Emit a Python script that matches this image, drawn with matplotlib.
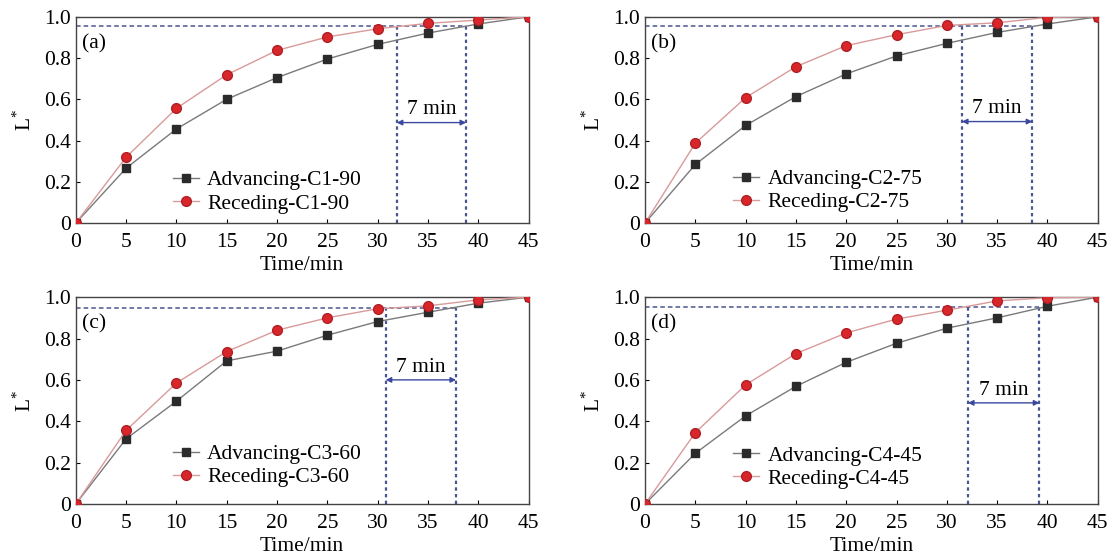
import numpy as np
import matplotlib.pyplot as plt

plt.rcParams['font.family'] = ['Liberation Serif', 'DejaVu Serif']
plt.rcParams['mathtext.fontset'] = 'custom'
plt.rcParams['mathtext.rm'] = 'Liberation Serif'

time = [0, 5, 10, 15, 20, 25, 30, 35, 40, 45]

adv_a = [0, 0.266, 0.456, 0.600, 0.705, 0.795, 0.866, 0.921, 0.965, 1.0]
rec_a = [0, 0.319, 0.556, 0.719, 0.837, 0.902, 0.942, 0.968, 0.984, 1.0]
adv_b = [0, 0.284, 0.473, 0.613, 0.723, 0.810, 0.871, 0.924, 0.965, 1.0]
rec_b = [0, 0.387, 0.608, 0.758, 0.860, 0.913, 0.958, 0.971, 0.997, 1.0]
adv_c = [0, 0.315, 0.497, 0.692, 0.739, 0.816, 0.882, 0.927, 0.971, 1.0]
rec_c = [0, 0.356, 0.585, 0.737, 0.840, 0.900, 0.944, 0.958, 0.987, 1.0]
adv_d = [0, 0.245, 0.426, 0.569, 0.685, 0.777, 0.850, 0.900, 0.956, 1.0]
rec_d = [0, 0.345, 0.576, 0.727, 0.827, 0.894, 0.937, 0.982, 0.997, 1.0]

names = ['C1-90', 'C2-75', 'C3-60', 'C4-45']
letters = ['(a)', '(b)', '(c)', '(d)']
# level of the dashed line, left / right vertical line, arrow height
level = [0.955, 0.956, 0.950, 0.952]
t_left = [31.9, 31.5, 30.8, 32.1]
t_right = [38.8, 38.5, 37.8, 39.2]
arrow_y = [0.487, 0.492, 0.600, 0.489]

advancing = [adv_a, adv_b, adv_c, adv_d]
receding = [rec_a, rec_b, rec_c, rec_d]

fig = plt.figure(figsize=(11.15, 5.59), dpi=100)
pos = [[0.068, 0.601, 0.406, 0.369],
       [0.5785, 0.601, 0.406, 0.369],
       [0.068, 0.0984, 0.406, 0.370],
       [0.5785, 0.0984, 0.406, 0.370]]
# legend anchor (axes fraction): handle start, middle of the two rows
leg_pos = [(0.214, 0.150), (0.194, 0.157), (0.214, 0.185), (0.194, 0.178)]

dash_col = '#4a5690'
for i in range(4):
    ax = fig.add_axes(pos[i])
    ax.plot(time, advancing[i], color='#7a7a7a', lw=1.0, marker='s', ms=5.5,
            mfc='#2b2b2b', mec='#2b2b2b', label='Advancing-' + names[i], zorder=3)
    ax.plot(time, receding[i], color='#d99a9a', lw=1.0, marker='o', ms=7,
            mfc='#d9262b', mec='#b02025', label='Receding-' + names[i], zorder=3)

    ax.plot([0, t_right[i]], [level[i], level[i]], ls=(0, (3, 2)), color=dash_col, lw=1.1, zorder=2)
    ax.plot([t_left[i], t_left[i]], [0, level[i]], ls=(0, (1.5, 1.5)), color=dash_col, lw=1.6, zorder=2)
    ax.plot([t_right[i], t_right[i]], [0, level[i]], ls=(0, (1.5, 1.5)), color=dash_col, lw=1.6, zorder=2)
    ax.annotate('', xy=(t_right[i], arrow_y[i]), xytext=(t_left[i], arrow_y[i]),
                arrowprops=dict(arrowstyle='<|-|>', color='#3a48a0', lw=1.0,
                                mutation_scale=8, shrinkA=0, shrinkB=0))
    ax.text((t_left[i] + t_right[i]) / 2, arrow_y[i] + 0.062, '7 min', ha='center', va='center', fontsize=15.5)
    ax.text(0.6, 0.87, letters[i], ha='left', va='center', fontsize=15.5)

    ax.set_xlim(0, 45)
    ax.set_ylim(0, 1.0)
    ax.set_xticks(range(0, 46, 5))
    ax.set_yticks([0, 0.2, 0.4, 0.6, 0.8, 1.0])
    ax.set_yticklabels(['0', '0.2', '0.4', '0.6', '0.8', '1.0'])
    ax.tick_params(axis='x', pad=7)
    ax.tick_params(direction='in', labelsize=15.5, length=3, width=0.8, top=False, right=False)
    for s in ax.spines.values():
        s.set_color('#444444')
        s.set_linewidth(1.0)
    ax.set_xlabel('Time/min', fontsize=15.5, labelpad=3)
    ax.set_ylabel(r'L$^{*}$', fontsize=15.5, labelpad=6)

    ax.legend(loc='center left', bbox_to_anchor=leg_pos[i], frameon=False, fontsize=15.5,
              handlelength=1.2, handletextpad=0.4, labelspacing=0.15, borderpad=0, borderaxespad=0)

fig.savefig('out.png', dpi=100)
